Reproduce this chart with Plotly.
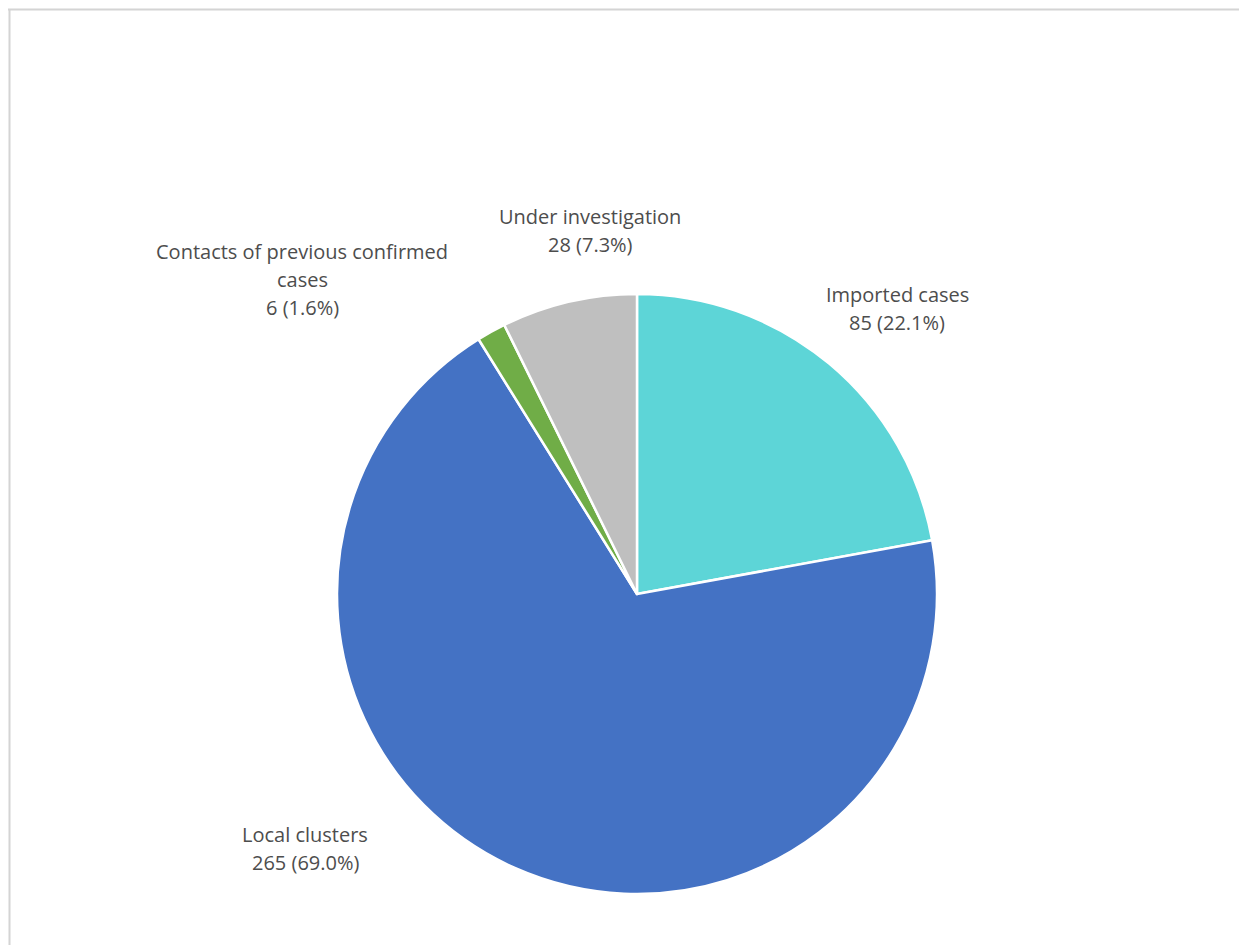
import plotly.graph_objects as go

labels = ["Imported cases", "Local clusters", "Contacts of previous confirmed cases", "Under investigation"]
display_lines = [["Imported cases"], ["Local clusters"], ["Contacts of previous confirmed", "cases"], ["Under investigation"]]
values = [85, 265, 6, 28]
colors = ["#5DD5D7", "#4472C4", "#70AD47", "#BFBFBF"]

OFF = 8  # page body margin
W, H = 1247 - OFF, 945 - OFF
cx, cy, r = 637 - OFF, 594 - OFF, 300

fig = go.Figure(go.Pie(
    labels=labels, values=values, sort=False, direction="clockwise", rotation=0,
    marker=dict(colors=colors, line=dict(color="white", width=2.5)),
    textinfo="none", hoverinfo="label+value+percent", showlegend=False,
    domain=dict(x=[(cx - r) / W, (cx + r) / W], y=[(H - cy - r) / H, (H - cy + r) / H]),
))

total = sum(values)
# label block centers (page pixels) and line spacing
label_pos = [(897, 308), (305, 848), (302, 279), (590, 230)]
spacing = 28
annotations = []
for lines, v, (lx, ly) in zip(display_lines, values, label_pos):
    all_lines = lines + [f"{v} ({v / total * 100:.1f}%)"]
    n = len(all_lines)
    for i, t in enumerate(all_lines):
        y = ly - OFF + (i - (n - 1) / 2) * spacing
        annotations.append(dict(
            x=(lx - OFF) / W, y=1 - y / H, xref="paper", yref="paper", text=t, showarrow=False,
            xanchor="center", yanchor="middle",
            font=dict(family="Open Sans", size=20, color="#4D4D4D"),
        ))

shapes = [
    dict(type="line", xref="paper", yref="paper", x0=0, x1=1, y0=1 - 1.5 / H, y1=1 - 1.5 / H,
         line=dict(color="#D4D4D4", width=2)),
    dict(type="line", xref="paper", yref="paper", x0=1.5 / W, x1=1.5 / W, y0=0, y1=1 - 1 / H,
         line=dict(color="#D4D4D4", width=2)),
]

fig.update_layout(
    width=W, height=H, margin=dict(l=0, r=0, t=0, b=0),
    paper_bgcolor="white", plot_bgcolor="white",
    annotations=annotations, shapes=shapes,
)
fig.write_html("out.html")
